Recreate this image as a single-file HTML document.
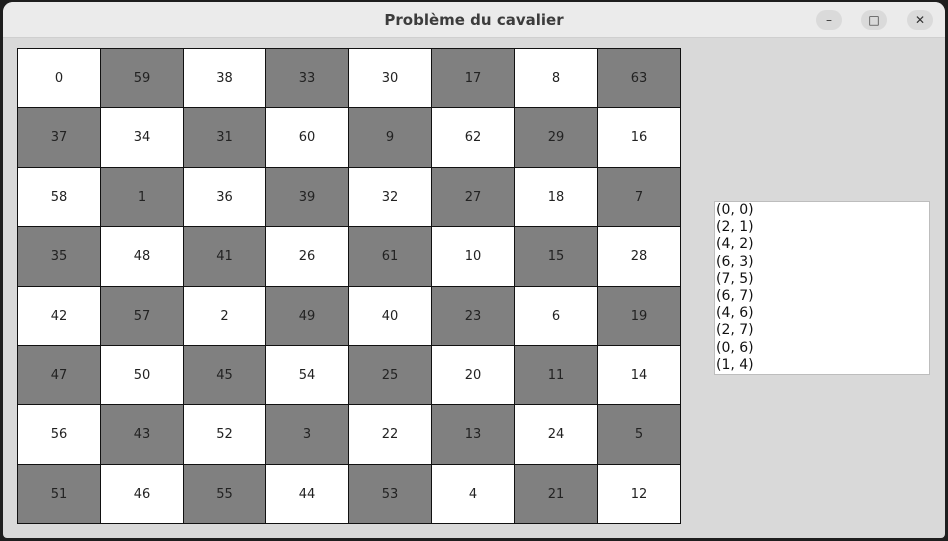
<!DOCTYPE html>
<html><head><meta charset="utf-8"><style>
body{margin:0;width:948px;height:541px;background:#1e1e1e;overflow:hidden;font-family:"DejaVu Sans","Liberation Sans",sans-serif}
#win{position:absolute;left:3px;top:2px;width:942px;height:536px;background:#d9d9d9;border-radius:10px 10px 4px 4px;overflow:hidden}
#title{position:absolute;left:0;top:0;width:942px;height:35px;background:#ebebeb;border-bottom:1px solid #cfcfcf}
#title span{position:absolute;left:0;width:942px;top:9px;text-align:center;font-size:15px;font-weight:bold;color:#3c3c3c}
.wb{position:absolute;top:8px;width:26px;height:20px;border-radius:10px;background:#dadada;font-size:12px;text-align:center;line-height:20px;color:#333}
#board{position:absolute;left:0;top:0}
.cell{position:absolute;box-sizing:border-box;border:1px solid #111;font-size:13px;color:#222;display:flex;align-items:center;justify-content:center}
#list{position:absolute;left:711px;top:199px;width:216px;height:174px;background:#fff;border:1px solid #bdbdbd;box-sizing:border-box;font-size:14px;line-height:17.2px;color:#111;padding:0 0 0 1px}
</style></head><body>
<div id="win">
<div id="title"><span>Problème du cavalier</span>
<div class="wb" style="left:813px">–</div>
<div class="wb" style="left:858px">□</div>
<div class="wb" style="left:904px">✕</div>
</div>
<div id="board"></div>
<div id="list"></div>
</div>
<script>
const moveNumbers=[
[0,59,38,33,30,17,8,63],
[37,34,31,60,9,62,29,16],
[58,1,36,39,32,27,18,7],
[35,48,41,26,61,10,15,28],
[42,57,2,49,40,23,6,19],
[47,50,45,54,25,20,11,14],
[56,43,52,3,22,13,24,5],
[51,46,55,44,53,4,21,12]];
const moveList=["(0, 0)","(2, 1)","(4, 2)","(6, 3)","(7, 5)","(6, 7)","(4, 6)","(2, 7)","(0, 6)","(1, 4)"];
const xs=[14,97,180,262,345,428,511,594,677];
const ys=[46,105,165,224,284,343,402,462,521];
const board=document.getElementById('board');
moveNumbers.forEach((row,r)=>row.forEach((v,c)=>{
 const d=document.createElement('div');
 d.className='cell';
 
 
 d.style.left=xs[c]+'px';d.style.top=ys[r]+'px';
 d.style.width=(xs[c+1]-xs[c]+1)+'px';d.style.height=(ys[r+1]-ys[r]+1)+'px';
 d.style.background=(r+c)%2?'#808080':'#ffffff';
 d.textContent=v;
 board.appendChild(d);
}));
const list=document.getElementById('list');
moveList.forEach(m=>{
 const d=document.createElement('div');
 
 
 d.textContent=m;
 list.appendChild(d);
});
</script>
</body></html>
